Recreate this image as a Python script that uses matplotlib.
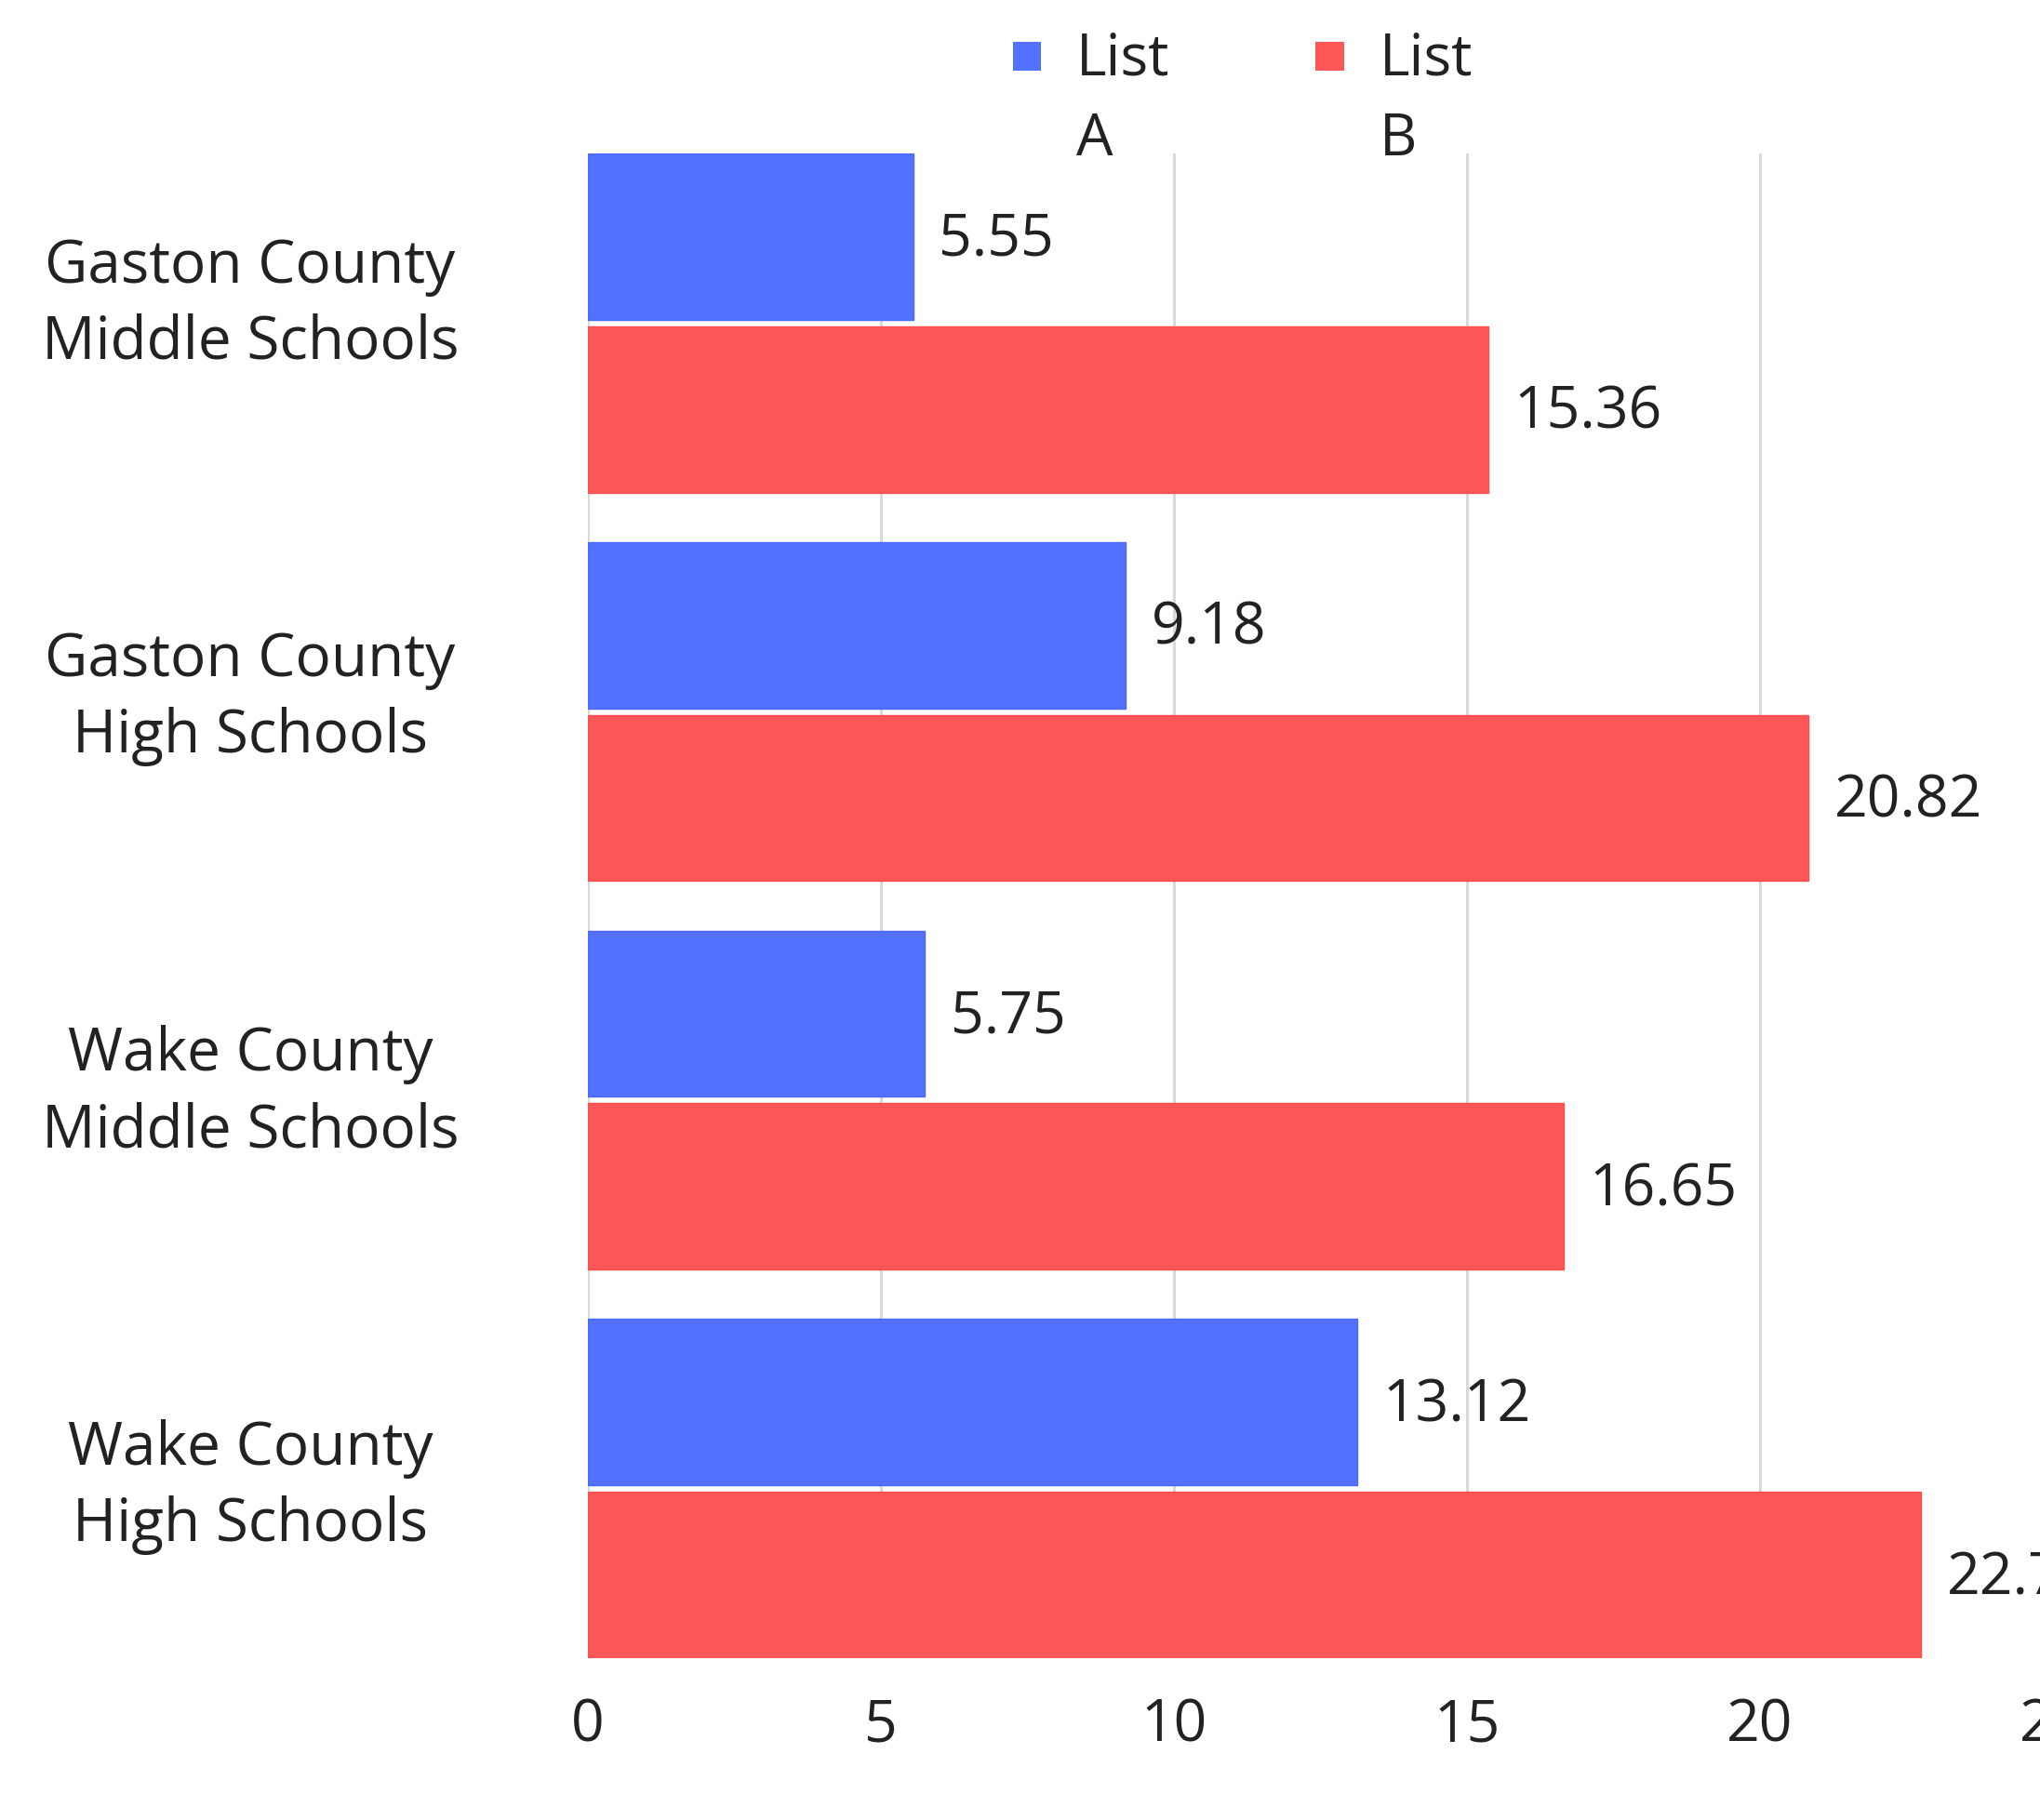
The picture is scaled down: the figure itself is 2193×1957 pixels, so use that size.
import matplotlib
matplotlib.use("Agg")
import matplotlib.pyplot as plt
from matplotlib.patches import Patch, Rectangle
from matplotlib.legend_handler import HandlerBase
import numpy as np

categories = ["Gaston County\nMiddle Schools", "Gaston County\nHigh Schools",
              "Wake County\nMiddle Schools", "Wake County\nHigh Schools"]
list_a = [5.55, 9.18, 5.75, 13.12]
list_b = [15.36, 20.82, 16.65, 22.75]
series_labels = ["List\nA", "List\nB"]
xticks = [0, 5, 10, 15, 20, 25]

BLUE = "#5271FF"
RED = "#FF5757"
TXT = "#222222"

plt.rcParams['font.family'] = ['Open Sans', 'DejaVu Sans']

fig = plt.figure(figsize=(21.93, 19.57), dpi=100)
ax = fig.add_axes([0.2882, 0.0889, 0.7182, 0.8268])

y = np.arange(len(categories))
h = 0.428
off = 0.2225
bars_a = ax.barh(y - off, list_a, height=h, color=BLUE, edgecolor="#4A68FF", linewidth=1.0, zorder=3)
bars_b = ax.barh(y + off, list_b, height=h, color=RED, edgecolor="#FF4D4D", linewidth=1.0, zorder=3)

for bars, vals in ((bars_a, list_a), (bars_b, list_b)):
    for b, v in zip(bars, vals):
        ax.annotate(f"{v:g}", xy=(v, b.get_y() + b.get_height() / 2), xytext=(20, -3),
                    textcoords="offset points", va="center", ha="left",
                    fontsize=45, color=TXT, annotation_clip=False)

ax.set_xlim(0, 25)
ax.set_ylim(len(categories) - 1 + off + h / 2, -off - h / 2)
ax.set_xticks(xticks)
ax.set_xticklabels([str(t) for t in xticks], fontsize=45, color=TXT)
ax.set_yticks([])
ax.tick_params(axis="x", length=0, pad=30)
ax.grid(axis="x", color="#D9D9D9", linewidth=2.2, zorder=0)
ax.set_axisbelow(True)
for s in ax.spines.values():
    s.set_visible(False)

# category labels, centred in the left margin
for i, cat in enumerate(categories):
    ax.text(-0.2305, i * 1.014 - 0.047, cat, transform=ax.get_yaxis_transform(),
            ha="center", va="center", multialignment="center",
            fontsize=46, color=TXT, linespacing=1.37)


class UpSquareHandler(HandlerBase):
    def __init__(self, shift, size, **kw):
        super().__init__(**kw)
        self.shift = shift
        self.size = size

    def create_artists(self, legend, orig_handle, xdescent, ydescent, width, height,
                       fontsize, trans):
        cx = -xdescent + width / 2
        cy = -ydescent + height / 2 + self.shift
        r = Rectangle((cx - self.size / 2, cy - self.size / 2), self.size, self.size,
                      facecolor=orig_handle.get_facecolor(), edgecolor="none",
                      transform=trans)
        return [r]


handles = [Patch(facecolor=BLUE), Patch(facecolor=RED)]
hmap = {h_: UpSquareHandler(shift=35, size=22) for h_ in handles}
leg = fig.legend(handles, series_labels, loc="upper center", bbox_to_anchor=(0.609, 1.012),
                 ncol=2, frameon=False, fontsize=45, handlelength=0.5, handletextpad=0.6,
                 columnspacing=2.5, labelcolor=TXT, handler_map=hmap)
for t in leg.get_texts():
    t.set_linespacing(1.5)

fig.savefig("out.png", dpi=100)
